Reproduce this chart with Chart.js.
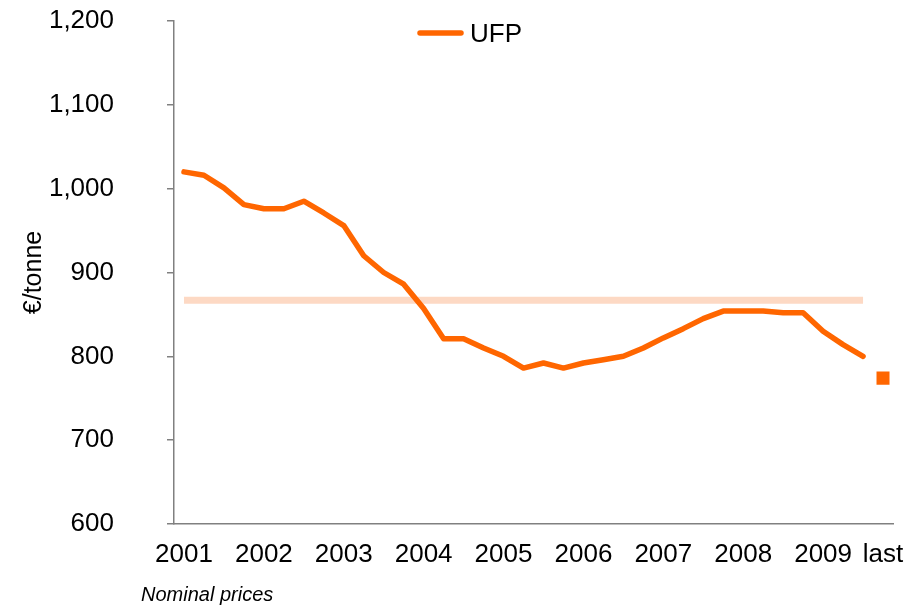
<!DOCTYPE html>
<html><head><meta charset="utf-8">
<script src="https://cdn.jsdelivr.net/npm/chart.js@4/dist/chart.umd.min.js"></script>
<style>html,body{margin:0;padding:0;background:#fff;}</style>
</head><body>
<canvas id="c" width="922" height="607"></canvas>
<script>
// Quarterly periods 2001 Q1 .. 2009 Q3, then "last"
const tickLabels = ['2001','','','','2002','','','','2003','','','','2004','','','','2005','','','',
                    '2006','','','','2007','','','','2008','','','','2009','','','last'];
const ufpValues = [1020,1016,1001,981,976,976,985,971,956,920,900,886,857,821,821,810,800,786,792,786,
                   792,796,800,810,822,833,845,854,854,854,852,852,830,814,800];
const lastValue = 774;
const averageValue = 867;
const yTicks = {min: 600, max: 1200, step: 100};

const ufpData = tickLabels.map((_, i) => i < ufpValues.length ? ufpValues[i] : null);
const lastData = tickLabels.map((_, i) => i === tickLabels.length - 1 ? lastValue : null);
const avgData = tickLabels.map((_, i) => i < ufpValues.length ? averageValue : null);

const FONT = 'Liberation Sans, Arial, sans-serif';

const boxesPlugin = {
  id: 'boxesAdjust',
  afterLayout(chart) {
    chart.boxes.forEach(b => {
      if (b.options && b.options.text === 'Nominal prices') { b.left += 141; b.right += 141; }
    });
  },
  afterDraw(chart) {
    // legend entry for the first dataset, placed inside the plot like the reference
    const ds = chart.data.datasets[0];
    const ctx = chart.ctx;
    ctx.save();
    ctx.strokeStyle = ds.borderColor;
    ctx.lineWidth = ds.borderWidth;
    ctx.lineCap = 'round';
    ctx.beginPath();
    ctx.moveTo(420, 33);
    ctx.lineTo(461, 33);
    ctx.stroke();
    ctx.fillStyle = '#000';
    ctx.font = '26px ' + FONT;
    ctx.textBaseline = 'middle';
    ctx.textAlign = 'left';
    ctx.fillText(ds.label, 470, 35);
    ctx.restore();
  }
};

new Chart(document.getElementById('c'), {
  type: 'line',
  data: {
    labels: tickLabels,
    datasets: [
      {label: 'UFP', data: ufpData, borderColor: '#FF6600', backgroundColor: '#FF6600',
       borderWidth: 5.5, borderCapStyle: 'round', borderJoinStyle: 'round',
       pointRadius: 0, tension: 0, spanGaps: false},
      {label: 'last', data: lastData, showLine: false, pointStyle: 'rect',
       pointRadius: 9.2, pointBorderWidth: 0, pointBackgroundColor: '#FF6600', borderColor: '#FF6600'},
      {label: 'average', data: avgData, borderColor: '#FDD9C4', borderWidth: 7,
       borderCapStyle: 'butt', pointRadius: 0}
    ]
  },
  options: {
    responsive: false, animation: false, devicePixelRatio: 1, locale: 'en-US',
    layout: {padding: {left: 0, right: 29, top: 21, bottom: 0}},
    plugins: {
      tooltip: {enabled: false},
      legend: {display: false},
      subtitle: {
        display: true, position: 'bottom', align: 'start', text: 'Nominal prices',
        color: '#000', font: {family: FONT, size: 20, style: 'italic', weight: 'normal'},
        padding: {top: 0, bottom: 0}
      }
    },
    scales: {
      x: {
        type: 'category', offset: true,
        afterFit: s => { s.height = 59; },
        grid: {display: true, drawOnChartArea: false, drawTicks: false},
        border: {display: true, color: '#808080', width: 1.5},
        ticks: {autoSkip: false, maxRotation: 0, minRotation: 0, padding: 15,
                color: '#000', font: {family: FONT, size: 26}}
      },
      y: {
        min: yTicks.min, max: yTicks.max,
        afterFit: s => { s.width = 174; s.paddingTop = 0; s.paddingBottom = 0; },
        grid: {display: true, drawOnChartArea: false, drawTicks: true, tickLength: 7, color: '#808080', lineWidth: 1.5},
        border: {display: true, color: '#808080', width: 1.5},
        ticks: {stepSize: yTicks.step, padding: 53, color: '#000', font: {family: FONT, size: 26}},
        title: {display: true, text: '€/tonne', color: '#000', font: {family: FONT, size: 25},
                padding: {top: 19, bottom: 0}}
      }
    }
  },
  plugins: [boxesPlugin]
});
</script>
</body></html>
